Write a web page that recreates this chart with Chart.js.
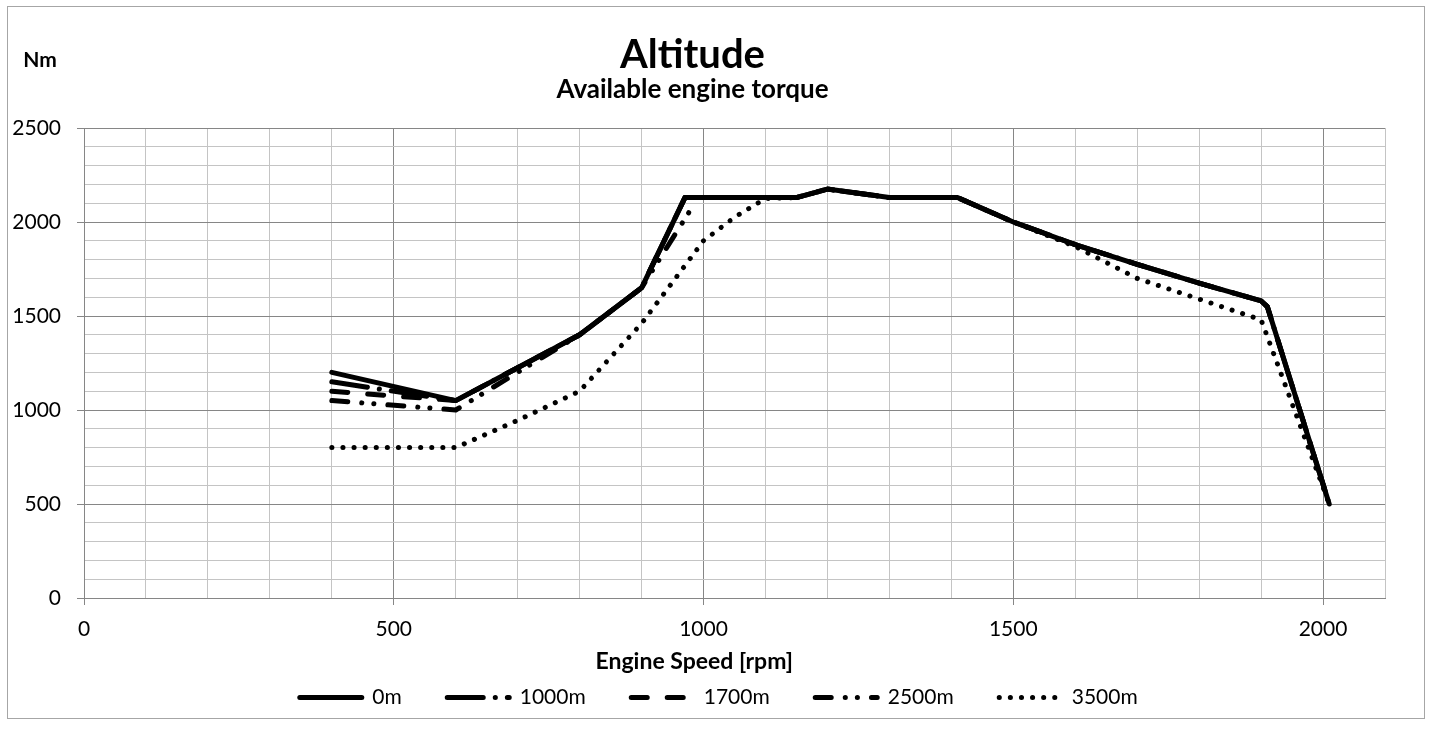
<!DOCTYPE html>
<html>
<head>
<meta charset="utf-8">
<title>Altitude - Available engine torque</title>
<script src="https://cdn.jsdelivr.net/npm/chart.js@4.4.1/dist/chart.umd.min.js"></script>
<style>
  html, body { margin: 0; padding: 0; background: #ffffff; }
  #wrap { width: 1434px; height: 729px; position: relative; }
</style>
</head>
<body>
<div id="wrap"><canvas id="torqueChart" width="1434" height="729"></canvas></div>
<script>
// engine speed [rpm] and torque [Nm] per altitude
const rpm0m = [400, 600, 700, 800, 900, 970, 1000, 1100, 1150, 1200, 1300, 1410, 1500, 1600, 1700, 1800, 1900, 1910, 2010];
const torque0m = [1200, 1050, 1225, 1400, 1650, 2130, 2130, 2130, 2130, 2175, 2130, 2130, 2000, 1880, 1775, 1675, 1580, 1550, 500];

const rpm1000m = [400, 600, 700, 800, 900, 970, 1000, 1100, 1150, 1200, 1300, 1410, 1500, 1600, 1700, 1800, 1900, 1910, 2010];
const torque1000m = [1150, 1050, 1225, 1400, 1650, 2130, 2130, 2130, 2130, 2175, 2130, 2130, 2000, 1880, 1775, 1675, 1580, 1550, 500];

const rpm1700m = [400, 600, 700, 800, 900, 970, 1000, 1100, 1150, 1200, 1300, 1410, 1500, 1600, 1700, 1800, 1900, 1910, 2010];
const torque1700m = [1100, 1050, 1225, 1400, 1650, 2130, 2130, 2130, 2130, 2175, 2130, 2130, 2000, 1880, 1775, 1675, 1580, 1550, 500];

const rpm2500m = [400, 600, 700, 800, 900, 980];
const torque2500m = [1050, 1000, 1200, 1400, 1650, 2070];

const rpm3500m = [400, 500, 600, 700, 800, 900, 1000, 1050, 1100, 1150, 1200, 1300, 1410, 1500, 1600, 1700, 1800, 1900, 2010];
const torque3500m = [800, 800, 800, 945, 1100, 1460, 1900, 2025, 2125, 2130, 2175, 2130, 2130, 2000, 1870, 1700, 1590, 1480, 500];

const seriesLabels = ['0m', '1000m', '1700m', '2500m', '3500m'];
const xTickLabels = [0, 500, 1000, 1500, 2000];
const yTickLabels = [0, 500, 1000, 1500, 2000, 2500];

const FONT = 'Lato, "Open Sans", sans-serif';
const MAJOR = '#868686';
const MINOR = '#c4c4c4';

const toPoints = (xs, ys) => xs.map((x, i) => ({ x: x, y: ys[i] }));

// Excel-ish line looks
const lineStyle = (dash, extra) => Object.assign({
  borderColor: '#000000',
  backgroundColor: '#000000',
  borderWidth: 5,
  borderDash: dash,
  borderCapStyle: 'round',
  borderJoinStyle: 'round',
  pointRadius: 0,
  pointHoverRadius: 0,
  fill: false,
  tension: 0
}, extra || {});

// outer frame + "Nm" unit label
const frameAndUnit = {
  id: 'frameAndUnit',
  afterDraw(chart) {
    const ctx = chart.ctx;
    ctx.save();
    ctx.strokeStyle = '#a6a6a6';
    ctx.lineWidth = 1;
    ctx.setLineDash([]);
    ctx.strokeRect(7.5, 6.5, 1417, 712);
    ctx.fillStyle = '#000000';
    ctx.font = 'bold 21px ' + FONT;
    ctx.textAlign = 'center';
    ctx.textBaseline = 'middle';
    ctx.fillText('Nm', 40, 60);
    ctx.restore();
  }
};

const isMajor = (v) => v % 500 === 0;

// legend with the dataset dash patterns (point-style items drop them otherwise)
const legendLabels = (chart) => {
  const items = Chart.defaults.plugins.legend.labels.generateLabels(chart);
  return items.map((item) => {
    const ds = chart.data.datasets[item.datasetIndex];
    item.text = ds.label + '\u2003\u2003';
    item.lineDash = ds.borderDash;
    item.lineCap = 'round';
    item.lineWidth = 5;
    item.strokeStyle = '#000000';
    return item;
  });
};

new Chart(document.getElementById('torqueChart').getContext('2d'), {
  type: 'line',
  data: {
    datasets: [
      lineStyle([], { label: seriesLabels[0], data: toPoints(rpm0m, torque0m) }),
      lineStyle([36, 12, 0.1, 12], { label: seriesLabels[1], data: toPoints(rpm1000m, torque1000m) }),
      lineStyle([16, 20], { label: seriesLabels[2], data: toPoints(rpm1700m, torque1700m) }),
      lineStyle([16, 14, 0.1, 12, 0.1, 14], { label: seriesLabels[3], data: toPoints(rpm2500m, torque2500m) }),
      lineStyle([0.1, 11], { label: seriesLabels[4], data: toPoints(rpm3500m, torque3500m) })
    ]
  },
  options: {
    responsive: false,
    animation: false,
    maintainAspectRatio: false,
    layout: { padding: { left: 0, right: 49, top: 0, bottom: 11 } },
    plugins: {
      title: {
        display: true,
        text: 'Altitude',
        color: '#000000',
        font: { family: FONT, size: 40, weight: 'bold', lineHeight: 1 },
        padding: { top: 35, bottom: 0 }
      },
      subtitle: {
        display: true,
        text: 'Available engine torque',
        color: '#000000',
        font: { family: FONT, size: 26, weight: 'bold', lineHeight: 1 },
        padding: { top: 2, bottom: 25 }
      },
      legend: {
        position: 'bottom',
        fullSize: false,
        labels: {
          usePointStyle: true,
          pointStyle: 'line',
          pointStyleWidth: 62,
          color: '#000000',
          font: { family: FONT, size: 21 },
          padding: 14,
          generateLabels: legendLabels
        }
      },
      tooltip: { enabled: false }
    },
    scales: {
      x: {
        type: 'linear',
        min: 0,
        max: 2100,
        afterFit: (scale) => { scale.height = 75; },
        ticks: {
          stepSize: 100,
          color: '#000000',
          font: { family: FONT, size: 21 },
          padding: 12,
          maxRotation: 0,
          autoSkip: false,
          callback: (val) => xTickLabels.includes(val) ? String(val) : ''
        },
        grid: {
          color: (c) => isMajor(c.tick.value) ? MAJOR : MINOR,
          tickColor: (c) => isMajor(c.tick.value) ? MAJOR : 'rgba(0,0,0,0)',
          tickLength: 7,
          lineWidth: 1
        },
        border: { color: MAJOR },
        title: {
          display: true,
          text: 'Engine Speed [rpm]\u2002\u2002\u2002\u2002\u2002\u2002\u2002',
          color: '#000000',
          font: { family: FONT, size: 23, weight: 'bold' },
          padding: { top: 0, bottom: -2 }
        }
      },
      y: {
        min: 0,
        max: 2500,
        afterFit: (scale) => { scale.width = 84; },
        ticks: {
          stepSize: 100,
          color: '#000000',
          font: { family: FONT, size: 21 },
          padding: 16,
          autoSkip: false,
          callback: (val) => yTickLabels.includes(val) ? String(val) : ''
        },
        grid: {
          color: (c) => isMajor(c.tick.value) ? MAJOR : MINOR,
          tickColor: (c) => isMajor(c.tick.value) ? MAJOR : 'rgba(0,0,0,0)',
          tickLength: 7,
          lineWidth: 1
        },
        border: { color: MAJOR }
      }
    }
  },
  plugins: [frameAndUnit]
});
</script>
</body>
</html>
